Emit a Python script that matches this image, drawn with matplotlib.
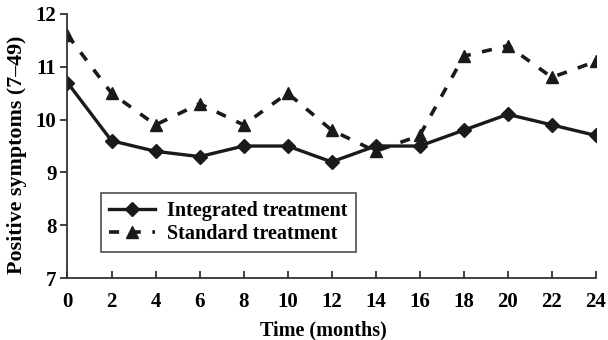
import matplotlib
matplotlib.use("Agg")
import matplotlib.pyplot as plt

months = [0, 2, 4, 6, 8, 10, 12, 14, 16, 18, 20, 22, 24]
integrated = [10.7, 9.6, 9.4, 9.3, 9.5, 9.5, 9.2, 9.5, 9.5, 9.8, 10.1, 9.9, 9.7]
standard = [11.6, 10.5, 9.9, 10.3, 9.9, 10.5, 9.8, 9.4, 9.7, 11.2, 11.4, 10.8, 11.1]
y_ticks = [7, 8, 9, 10, 11, 12]

plt.rcParams["font.family"] = "Liberation Serif"
plt.rcParams["font.weight"] = "bold"

fig = plt.figure(figsize=(6.08, 3.4), dpi=100)
ax = fig.add_axes([0.111, 0.182, 0.869, 0.777])

ax.plot(months, integrated, color="#1a1a1a", lw=2.4, marker="D", ms=7,
        label="Integrated treatment")
ax.plot(months, standard, color="#1a1a1a", lw=2.6, ls=(0, (2.8, 3.2)),
        marker="^", ms=9, label="Standard treatment")

ax.set_xlim(0, 24)
ax.set_ylim(7, 12)
ax.set_xticks(months)
ax.set_yticks(y_ticks)
ax.spines["top"].set_visible(False)
ax.spines["right"].set_visible(False)
for s in ("left", "bottom"):
    ax.spines[s].set_linewidth(1.3)
    ax.spines[s].set_color("#333333")
ax.tick_params(axis="x", direction="in", length=5, width=1.3, pad=10,
               labelsize=15, color="#333333")
ax.tick_params(axis="y", direction="out", length=5, width=1.3, pad=3,
               labelsize=15, color="#333333")

ax.set_xlabel("Time (months)", fontsize=14.5, fontweight="bold")
ax.set_ylabel("Positive symptoms (7\u201349)", fontsize=15.8, fontweight="bold")
# the original labels sit a little off the axis centre
ax.xaxis.set_label_coords(0.485, -0.16)
ax.yaxis.set_label_coords(-0.077, 0.466)

leg = ax.legend(loc="lower left", bbox_to_anchor=(0.0625, 0.099),
                borderaxespad=0, frameon=True, fancybox=False,
                handlelength=2.3, borderpad=0.4, labelspacing=0.15,
                handletextpad=0.6, prop={"weight": "bold", "size": 14.5})
leg.get_frame().set_edgecolor("#333333")
leg.get_frame().set_linewidth(1.3)

fig.savefig("out.png", dpi=100)
